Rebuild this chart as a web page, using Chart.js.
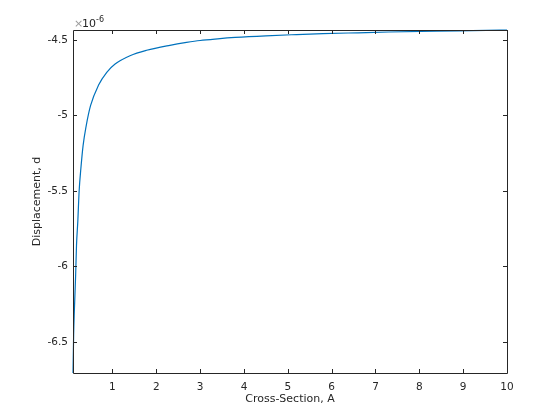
<!DOCTYPE html>
<html>
<head>
<meta charset="utf-8">
<script src="https://cdn.jsdelivr.net/npm/chart.js@4/dist/chart.umd.min.js"></script>
<style>
  html, body { margin: 0; padding: 0; background: #fff; }
  #wrap { width: 560px; height: 420px; }
</style>
</head>
<body>
<div id="wrap"><canvas id="grafica" width="560" height="420"></canvas></div>
<script>
// valores (d en unidades de 1e-6)
const crossSection = [0.1, 0.115, 0.13, 0.16, 0.18, 0.21, 0.24, 0.28, 0.33, 0.40, 0.50, 0.68, 0.87, 1.06, 1.4, 1.78, 2.31, 2.69, 3.0, 3.4, 3.8, 4.5, 5.2, 5.8, 6.6, 7.3, 8.9, 10];
const displacement = [-6.706, -6.45, -6.30, -6.06, -5.86, -5.70, -5.50, -5.35, -5.20, -5.07, -4.935, -4.80, -4.714, -4.659, -4.604, -4.568, -4.535, -4.516, -4.503, -4.492, -4.483, -4.472, -4.464, -4.458, -4.452, -4.447, -4.439, -4.4336];
const xTicks = [1, 2, 3, 4, 5, 6, 7, 8, 9, 10];
const yTicks = [-6.5, -6, -5.5, -5, -4.5];
const xRange = [0.1, 10];
const yRange = [-6.706, -4.4336];

const axisColor = "#262626";
const fontFam = "'DejaVu Sans', sans-serif";

// marco, marcas hacia dentro y el factor x10^-6
const matlabAxes = {
  id: "matlabAxes",
  afterDraw(chart) {
    const ctx = chart.ctx;
    const a = chart.chartArea;
    const xs = chart.scales.x;
    const ys = chart.scales.y;
    ctx.save();
    ctx.strokeStyle = axisColor;
    ctx.lineWidth = 1;
    ctx.beginPath();
    ctx.rect(Math.round(a.left) + 0.5, Math.round(a.top) + 0.5, Math.round(a.right - a.left), Math.round(a.bottom - a.top));
    const tl = 4;
    xTicks.forEach(v => {
      const px = Math.round(xs.getPixelForValue(v)) + 0.5;
      ctx.moveTo(px, a.bottom); ctx.lineTo(px, a.bottom - tl);
      ctx.moveTo(px, a.top); ctx.lineTo(px, a.top + tl);
    });
    yTicks.forEach(v => {
      const py = Math.round(ys.getPixelForValue(v)) + 0.5;
      ctx.moveTo(a.left, py); ctx.lineTo(a.left + tl, py);
      ctx.moveTo(a.right, py); ctx.lineTo(a.right - tl, py);
    });
    ctx.stroke();

    ctx.textBaseline = "alphabetic";
    ctx.textAlign = "left";
    ctx.font = "11px " + fontFam;
    ctx.fillStyle = "#9a9a9a";
    ctx.fillText("\u00d7", a.left + 1, a.top - 3);
    ctx.fillStyle = axisColor;
    ctx.fillText("10", a.left + 9, a.top - 3);
    ctx.font = "8px " + fontFam;
    ctx.fillText("-6", a.left + 23, a.top - 8);
    ctx.restore();
  }
};

const lienzo = document.getElementById("grafica").getContext("2d");
new Chart(lienzo, {
  type: "line",
  data: {
    datasets: [{
      data: crossSection.map((x, i) => ({ x: x, y: displacement[i] })),
      borderColor: "#0072BD",
      borderWidth: 1.2,
      pointRadius: 0,
      fill: false,
      clip: 2,
      cubicInterpolationMode: "monotone",
    }],
  },
  plugins: [matlabAxes],
  options: {
    responsive: false,
    animation: false,
    layout: { padding: { top: 30, right: 53, left: 0, bottom: 0 } },
    plugins: { legend: { display: false }, tooltip: { enabled: false } },
    scales: {
      x: {
        type: "linear",
        min: xRange[0],
        max: xRange[1],
        afterBuildTicks: s => { s.ticks = xTicks.map(v => ({ value: v })); },
        afterFit: s => { s.height = 47; },
        grid: { display: false, drawTicks: false },
        border: { display: false },
        ticks: { color: axisColor, font: { family: fontFam, size: 10.5 }, padding: 8, maxRotation: 0, autoSkip: false },
        title: { display: true, text: "Cross-Section, A", color: axisColor, font: { family: fontFam, size: 11 }, padding: { top: 0, bottom: 14 } },
      },
      y: {
        type: "linear",
        min: yRange[0],
        max: yRange[1],
        afterBuildTicks: s => { s.ticks = yTicks.map(v => ({ value: v })); },
        afterFit: s => { s.width = 73; },
        grid: { display: false, drawTicks: false },
        border: { display: false },
        ticks: { color: axisColor, font: { family: fontFam, size: 10.5 }, padding: 5, autoSkip: false, callback: v => String(v) },
        title: { display: true, text: "Displacement, d", color: axisColor, font: { family: fontFam, size: 11 }, padding: { top: 31, bottom: 0 } },
      },
    },
  },
});
</script>
</body>
</html>
